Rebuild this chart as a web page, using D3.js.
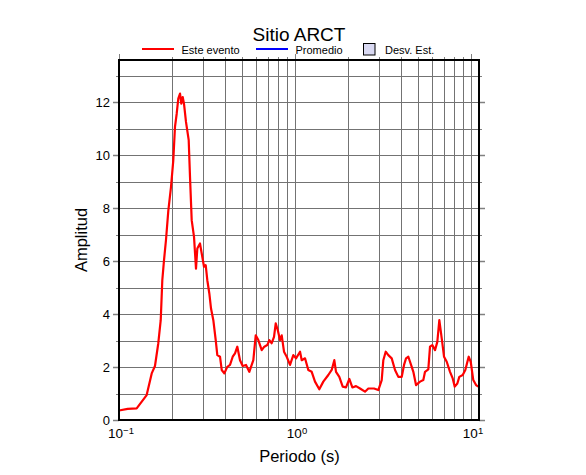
<!DOCTYPE html>
<html>
<head>
<meta charset="utf-8">
<script src="https://cdn.jsdelivr.net/npm/d3@7"></script>
<style>
  body { margin: 0; background: #fff; }
  text { font-family: "Liberation Sans", Arial, sans-serif; fill: #000; }
</style>
</head>
<body>
<script>
var width = 586, height = 475
var margin = {left: 119, right: 107, top: 60, bottom: 55}

var chartTitle = "Sitio ARCT"
var xLabel = "Periodo (s)"
var yLabel = "Amplitud"
var legendNames = ["Este evento", "Promedio", "Desv. Est."]

// periodo (s)
var periodo = [0.100, 0.112, 0.126, 0.1436, 0.1534, 0.1601, 0.1672, 0.1726, 0.1762, 0.1802, 0.1849,
  0.1906, 0.1974, 0.2034, 0.208, 0.2127, 0.2172, 0.2222, 0.2259, 0.2301, 0.234,
  0.2402, 0.2489, 0.2532, 0.2588, 0.2668, 0.2738, 0.2786, 0.2885, 0.2951, 0.3041,
  0.3109, 0.3175, 0.326, 0.3333, 0.3435, 0.3544, 0.3619, 0.3749, 0.3833, 0.3966,
  0.4124, 0.4273, 0.4426, 0.4562, 0.4701, 0.487, 0.5045, 0.5268, 0.55, 0.5797,
  0.5981, 0.6188, 0.6469, 0.6693, 0.696, 0.7145, 0.7373, 0.7598, 0.777, 0.7976,
  0.8219, 0.8403, 0.866, 0.8971, 0.9367, 0.978, 1.013, 1.068, 1.092, 1.14,
  1.19, 1.244, 1.299, 1.374, 1.448, 1.546, 1.616, 1.672, 1.71, 1.785,
  1.866, 1.949, 2.035, 2.117, 2.222, 2.341, 2.498, 2.609, 2.811, 2.974,
  3.109, 3.175, 3.276, 3.389, 3.543, 3.70, 3.864, 4.04, 4.163, 4.273,
  4.404, 4.604, 4.702, 4.87, 5.132, 5.358, 5.478, 5.72, 5.848, 6.027,
  6.244, 6.435, 6.606, 6.817, 7.025, 7.277, 7.598, 7.871, 8.08, 8.36,
  8.58, 8.97, 9.28, 9.70, 9.96, 10.30, 10.68, 11.0]

// amplitud del evento
var evento = [0.36, 0.42, 0.44, 0.94, 1.76, 2.04, 2.9, 3.77, 5.28, 6.04, 6.8,
  7.9, 8.8, 9.8, 11.07, 11.57, 12.14, 12.33, 11.95, 12.2, 11.95,
  11.26, 10.57, 9.18, 7.55, 6.92, 5.72, 6.48, 6.67, 6.29, 5.79,
  5.85, 5.28, 4.78, 4.21, 3.77, 3.02, 2.45, 2.39, 1.89, 1.76,
  2.01, 2.08, 2.39, 2.52, 2.77, 2.26, 2.04, 2.08, 1.82, 2.26,
  3.2, 3.02, 2.64, 2.77, 2.83, 3.02, 2.9, 3.14, 3.65, 3.4,
  3.02, 3.2, 2.58, 2.39, 2.08, 2.45, 2.33, 2.58, 2.26, 2.33,
  1.89, 1.82, 1.45, 1.16, 1.45, 1.7, 1.89, 2.26, 1.82, 1.63,
  1.26, 1.23, 1.55, 1.23, 1.28, 1.19, 1.07, 1.19, 1.19, 1.13,
  1.51, 2.26, 2.58, 2.45, 2.33, 1.89, 1.63, 1.63, 2.08, 2.33,
  2.39, 2.01, 1.82, 1.32, 1.45, 1.51, 1.82, 1.91, 2.77, 2.83,
  2.64, 2.95, 3.77, 3.08, 2.39, 2.2, 1.82, 1.57, 1.26, 1.38,
  1.63, 1.7, 1.89, 2.39, 2.2, 1.51, 1.32, 1.26]

var yMajor = [0, 2, 4, 6, 8, 10, 12]
var xDecades = [0.1, 1, 10]
var xDecadeLabels = ["\u22121", "0", "1"]

var svg = d3.select("body").append("svg")
  .attr("width", width).attr("height", height)

var x = d3.scaleLog().domain([0.1, 11.1]).range([margin.left, width - margin.right])
var y = d3.scaleLinear().domain([0, 13.6]).range([height - margin.bottom, margin.top])

var x0 = margin.left, x1 = width - margin.right
var y0 = height - margin.bottom, y1 = margin.top

// grid
var xGrid = []
for (var e = -1; e <= 1; e++) {
  for (var m = 1; m <= 9; m++) {
    var v = m * Math.pow(10, e)
    if (v > 0.1 && v < 11.1) xGrid.push(v)
  }
}
var yGrid = d3.range(1, 14)

var grid = svg.append("g").attr("stroke", "#737373").attr("stroke-width", 1)
grid.selectAll(".gx").data(xGrid).enter().append("line")
  .attr("x1", d => Math.round(x(d)) + 0.5).attr("x2", d => Math.round(x(d)) + 0.5)
  .attr("y1", y1).attr("y2", y0)
grid.selectAll(".gy").data(yGrid).enter().append("line")
  .attr("x1", x0).attr("x2", x1)
  .attr("y1", d => Math.round(y(d)) + 0.5).attr("y2", d => Math.round(y(d)) + 0.5)

// ticks
var ticks = svg.append("g").attr("stroke", "#808080").attr("stroke-width", 1)
var yTicks = d3.range(0, 14)
ticks.selectAll(".tl").data(yTicks).enter().append("line")
  .attr("x1", d => x0 - (d % 2 == 0 ? 6 : 3)).attr("x2", x0)
  .attr("y1", d => Math.round(y(d)) + 0.5).attr("y2", d => Math.round(y(d)) + 0.5)
  .attr("stroke-width", d => d % 2 == 0 ? 1.5 : 1)
ticks.selectAll(".tr").data(yTicks).enter().append("line")
  .attr("x1", x1).attr("x2", d => x1 + (d % 2 == 0 ? 6 : 3))
  .attr("y1", d => Math.round(y(d)) + 0.5).attr("y2", d => Math.round(y(d)) + 0.5)
  .attr("stroke-width", d => d % 2 == 0 ? 1.5 : 1)
var xTicks = [0.1].concat(xGrid)
ticks.selectAll(".tt").data(xTicks).enter().append("line")
  .attr("x1", d => Math.round(x(d)) + 0.5).attr("x2", d => Math.round(x(d)) + 0.5)
  .attr("y1", d => y1 - (xDecades.indexOf(d) >= 0 ? 6 : 3)).attr("y2", y1)

// curve
var line = d3.line().x((d, i) => x(periodo[i])).y(d => y(d))
svg.append("path").datum(evento)
  .attr("d", line)
  .attr("fill", "none").attr("stroke", "#ff0000").attr("stroke-width", 2.2)
  .attr("stroke-linejoin", "round")

// frame
svg.append("rect")
  .attr("x", x0).attr("y", y1).attr("width", x1 - x0).attr("height", y0 - y1)
  .attr("fill", "none").attr("stroke", "#000").attr("stroke-width", 2)

// y labels
svg.selectAll(".yl").data(yMajor).enter().append("text")
  .attr("x", x0 - 9).attr("y", d => y(d) + 4.7)
  .attr("text-anchor", "end").style("font-size", "13px")
  .text(d => d)

// x labels 10^n
var xl = svg.selectAll(".xl").data(xDecades).enter().append("text")
  .attr("x", d => x(d) + 2).attr("y", y0 + 18)
  .attr("text-anchor", "middle").style("font-size", "13.5px")
xl.append("tspan").text("10")
xl.append("tspan").attr("dy", -4).style("font-size", "9.5px").text((d, i) => xDecadeLabels[i])

// axis titles
svg.append("text").attr("x", (x0 + x1) / 2 + 0.5).attr("y", y0 + 42)
  .attr("text-anchor", "middle").style("font-size", "16.5px").text(xLabel)
svg.append("text")
  .attr("transform", "translate(" + 87 + "," + ((y0 + y1) / 2) + ") rotate(-90)")
  .attr("text-anchor", "middle").style("font-size", "16.5px").text(yLabel)

// title
svg.append("text").attr("x", 299).attr("y", 40.5)
  .attr("text-anchor", "middle").style("font-size", "19px").text(chartTitle)

// legend
var lg = svg.append("g")
lg.append("line").attr("x1", 142).attr("x2", 174).attr("y1", 49).attr("y2", 49)
  .attr("stroke", "#ff0000").attr("stroke-width", 2)
lg.append("text").attr("x", 181.5).attr("y", 53.5).style("font-size", "11px").text(legendNames[0])
lg.append("line").attr("x1", 256).attr("x2", 288).attr("y1", 49).attr("y2", 49)
  .attr("stroke", "#0000ff").attr("stroke-width", 2)
lg.append("text").attr("x", 295.5).attr("y", 53.5).style("font-size", "11px").text(legendNames[1])
lg.append("rect").attr("x", 363.5).attr("y", 43.5).attr("width", 11.5).attr("height", 11.5)
  .attr("fill", "#d9d9f2").attr("stroke", "#000").attr("stroke-width", 1)
lg.append("text").attr("x", 385).attr("y", 53.5).style("font-size", "11px").text(legendNames[2])
</script>
</body>
</html>
